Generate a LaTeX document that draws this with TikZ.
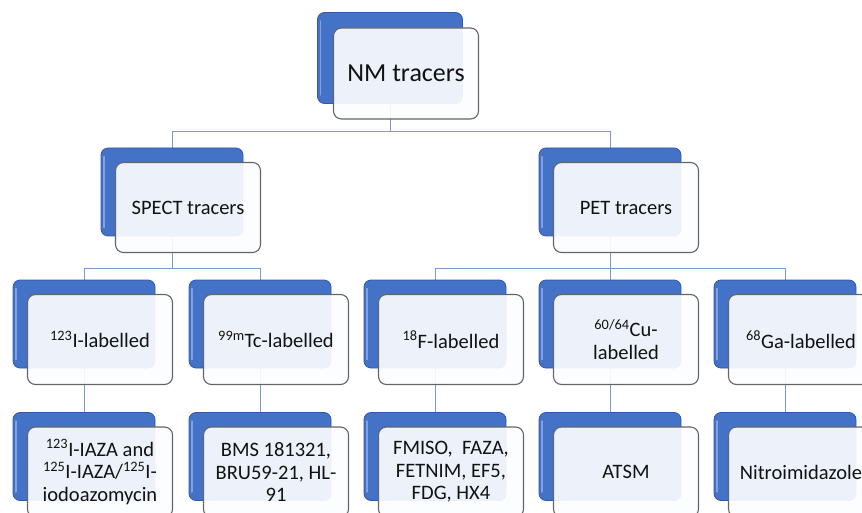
\documentclass[tikz,border=0pt]{standalone}
\usepackage{fontspec}
\setmainfont{Carlito}
\usetikzlibrary{calc}

\definecolor{bevelblue}{RGB}{68,114,198}
\definecolor{bevelline}{RGB}{50,88,168}
\definecolor{bevellight}{RGB}{125,163,228}
\definecolor{cardedge}{RGB}{100,100,106}
\definecolor{cardfill}{RGB}{252,253,255}
\definecolor{linkblue}{RGB}{120,152,206}
\definecolor{ink}{RGB}{18,18,18}

\pgfdeclarelayer{background}
\pgfsetlayers{background,main}

\tikzset{
  backcard/.style={draw=bevelline, line width=0.8pt, fill=bevelblue,
    rounded corners=7pt, minimum width=142pt, minimum height=88pt, inner sep=0pt},
  frontcard/.style={draw=cardedge, line width=1.1pt, fill=cardfill,
    fill opacity=0.92, draw opacity=1, text opacity=1, rounded corners=8pt,
    minimum width=145pt, minimum height=90pt, inner sep=2pt, align=center,
    text=ink, font=\fontsize{20.5}{22.5}\selectfont},
  topcard/.style={minimum width=145pt, minimum height=91pt},
  topfont/.style={font=\fontsize{26}{29}\selectfont},
  link/.style={draw=linkblue, line width=0.9pt},
}

% blue back card with its bevel highlight, then the pale front card holding the text
\newcommand\cardpair[5][]{%
  \node[backcard,#1] (#2-b) at (#3,#4) {};
  \draw[bevellight, line width=1.6pt, line cap=round]
    ([xshift=3.5pt,yshift=-9pt]#2-b.north west) -- ([xshift=3.5pt,yshift=9pt]#2-b.south west);
  \node[frontcard,#1] (#2) at (#3+16,#4+15.5) {#5};
}

\begin{document}
\begin{tikzpicture}[x=1pt,y=-1pt]
  \useasboundingbox (0,0) rectangle (862,513);
  \clip (0,0) rectangle (862,513);

  % top level
  \cardpair[topcard,topfont]{nm}{390}{58}{NM tracers}

  % modalities
  \cardpair{spect}{172}{192}{SPECT tracers}
  \cardpair{pet}{610}{192}{PET tracers}

  % labelling isotopes
  \cardpair{iod}{84}{324}{\textsuperscript{123}I-labelled}
  \cardpair{tc}{260}{324}{\textsuperscript{99m}Tc-labelled}
  \cardpair{fl}{435}{324}{\textsuperscript{18}F-labelled}
  \cardpair{cu}{610}{324}{\textsuperscript{60/64}Cu-\\labelled}
  \cardpair{ga}{785}{324}{\textsuperscript{68}Ga-labelled}

  % compounds
  \cardpair{iaza}{84}{456.5}{\textsuperscript{123}I-IAZA and\\\textsuperscript{125}I-IAZA/\textsuperscript{125}I-\\iodoazomycin}
  \cardpair{bms}{260}{456.5}{BMS 181321,\\BRU59-21, HL-\\91}
  \cardpair{fmiso}{435}{456.5}{FMISO,\ \ FAZA,\\FETNIM, EF5,\\FDG, HX4}
  \cardpair{atsm}{610}{456.5}{ATSM}
  \cardpair{nitro}{785}{456.5}{Nitroimidazole}

  \coordinate (bus1) at (0,131);
  \coordinate (bus2) at (0,268);

  \begin{pgfonlayer}{background}
    \draw[link] (nm-b) -- (nm-b |- bus1) -| (spect-b);
    \draw[link] (nm-b |- bus1) -| (pet-b);

    \draw[link] (spect-b) -- (spect-b |- bus2) -| (iod-b);
    \draw[link] (spect-b |- bus2) -| (tc-b);

    \draw[link] (pet-b) -- (pet-b |- bus2) -| (fl-b);
    \draw[link] (pet-b |- bus2) -- (cu-b);
    \draw[link] (pet-b |- bus2) -| (ga-b);

    \draw[link] (iod-b) -- (iaza-b);
    \draw[link] (tc-b) -- (bms-b);
    \draw[link] (fl-b) -- (fmiso-b);
    \draw[link] (cu-b) -- (atsm-b);
    \draw[link] (ga-b) -- (nitro-b);
  \end{pgfonlayer}
\end{tikzpicture}
\end{document}
